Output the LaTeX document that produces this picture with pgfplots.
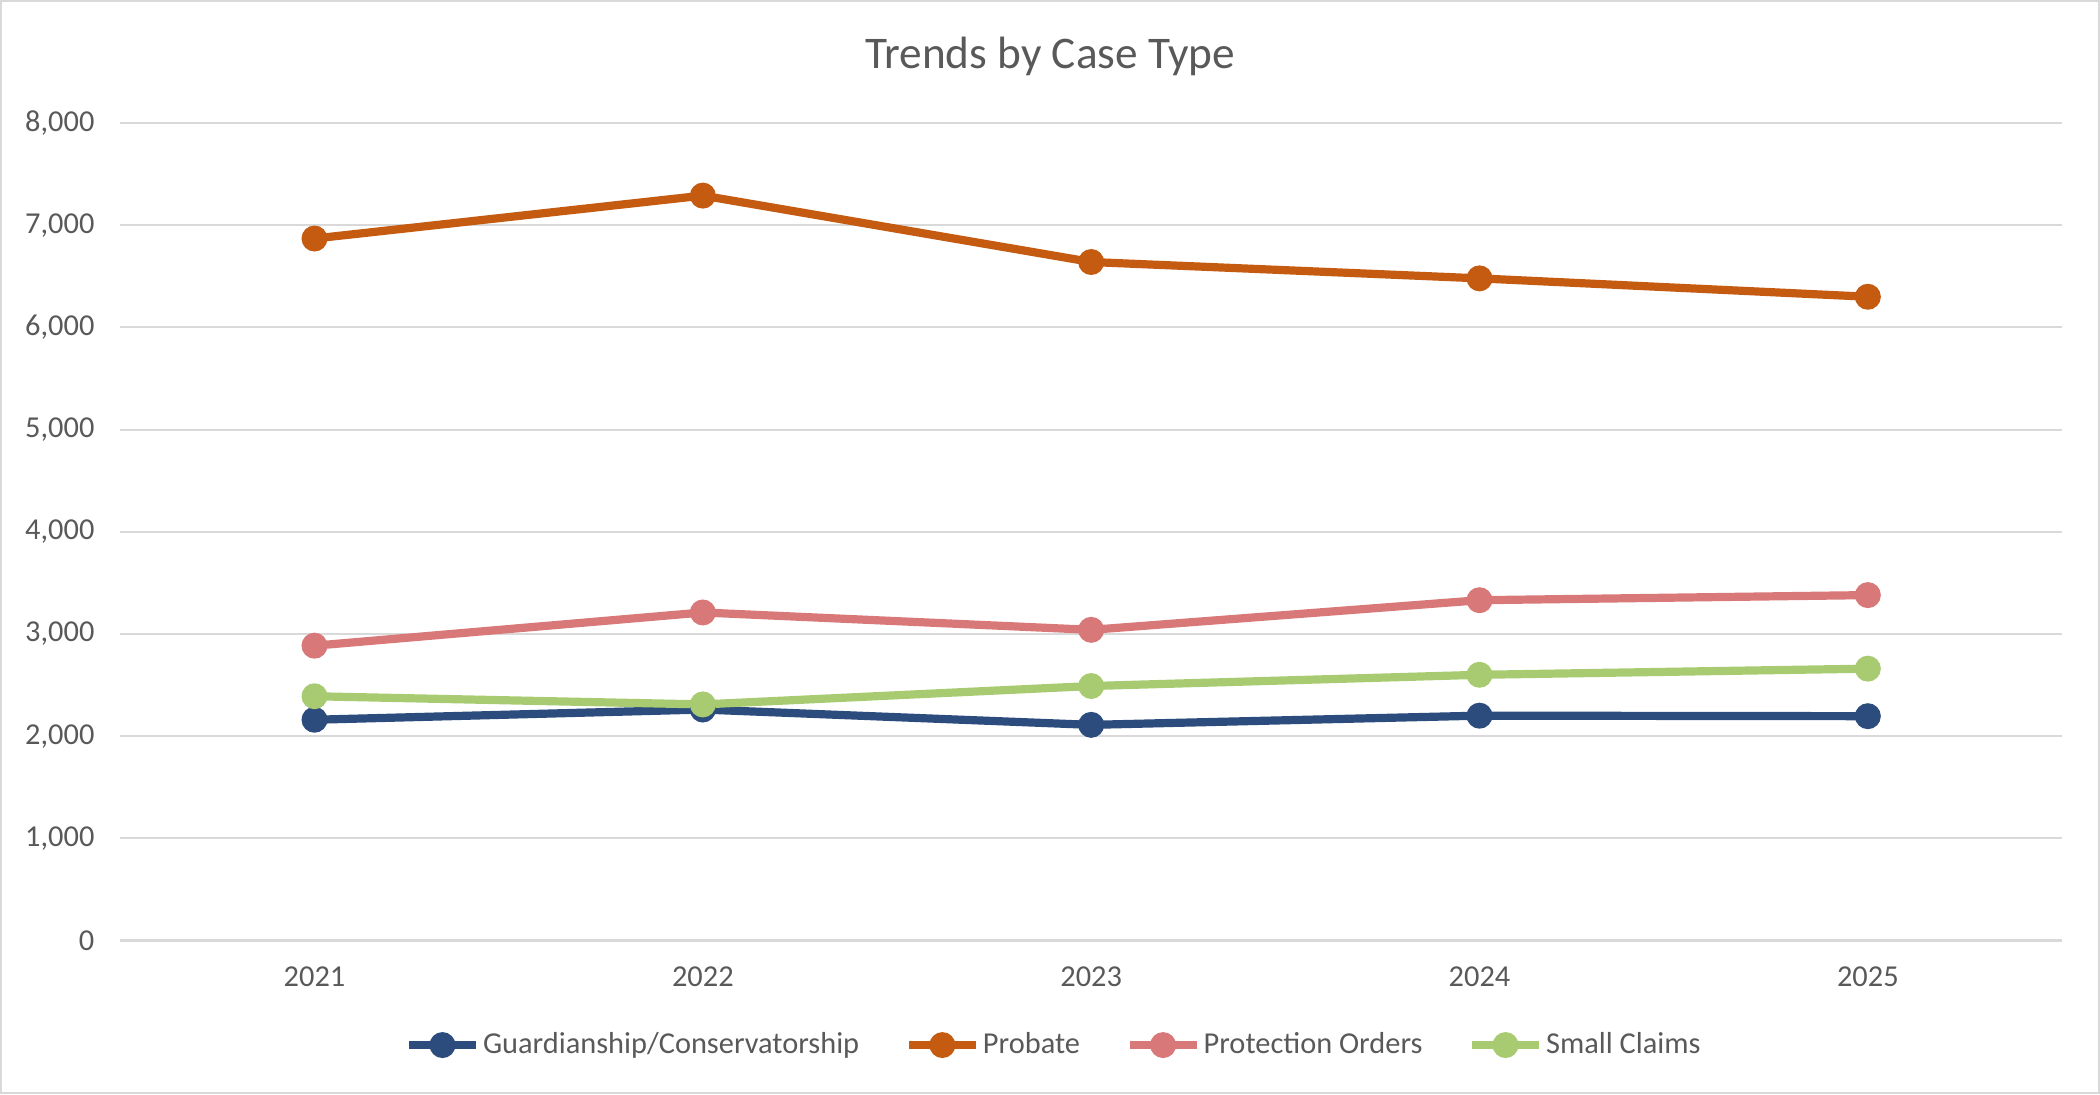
\documentclass[border=0pt]{standalone}
\usepackage{pgfplots}
\pgfplotsset{compat=1.18}
\usepackage{fontspec}
\setmainfont{Carlito}
\definecolor{guard}{HTML}{2B4C7C}
\definecolor{probate}{HTML}{C55A11}
\definecolor{protect}{HTML}{D97878}
\definecolor{claims}{HTML}{A8CB72}
\definecolor{txt}{HTML}{595959}
\definecolor{gridc}{HTML}{D9D9D9}
\begin{document}
\begin{tikzpicture}
\useasboundingbox (-39.6pt,-50.7pt) rectangle (651.5pt,309.5pt);
\draw[line width=0.7pt, gridc] (-39.2pt,-50.3pt) rectangle (651.1pt,309.1pt);
\node[font=\fontsize{14.9}{18}\selectfont, text=txt] at (306pt,291pt) {Trends by Case Type};
\begin{axis}[
  at={(0pt,0pt)}, anchor=south west,
  scale only axis, width=639pt, height=269pt,
  xmin=-0.5, xmax=4.5, ymin=0, ymax=8000,
  xtick={0,...,4}, xticklabels={2021,2022,2023,2024,2025},
  ytick={0,1000,...,8000},
  axis line style={draw=none},
  tick style={draw=none},
  ymajorgrids, grid style={gridc, line width=0.7pt},
  tick label style={font=\fontsize{10}{12}\selectfont, text=txt},
  /pgf/number format/assume math mode=true,
  /pgf/number format/1000 sep={,},
  yticklabel style={xshift=-5pt},
  xticklabel style={yshift=-5pt},
  every axis plot/.append style={line width=2.7pt, mark=*, mark size=2.9pt, mark options={solid}},
  legend columns=4,
  legend style={at={(0.481,-0.128)}, anchor=center, draw=none, fill=none,
    font=\fontsize{10}{12}\selectfont, text=txt,
    nodes={inner xsep=1pt},
    /tikz/every even column/.append style={column sep=14pt},
    /tikz/every odd column/.append style={column sep=0pt}},
  legend image code/.code={\draw[mark repeat=2, mark phase=2] plot coordinates {(0pt,0pt) (11pt,0pt) (22pt,0pt)};},
]
\addplot[guard] coordinates {(0,2160) (1,2260) (2,2110) (3,2200) (4,2195)};
\addlegendentry{Guardianship/Conservatorship}
\addplot[probate] coordinates {(0,6870) (1,7290) (2,6640) (3,6480) (4,6300)};
\addlegendentry{Probate}
\addplot[protect] coordinates {(0,2885) (1,3210) (2,3040) (3,3330) (4,3380)};
\addlegendentry{Protection Orders}
\addplot[claims] coordinates {(0,2390) (1,2310) (2,2490) (3,2600) (4,2660)};
\addlegendentry{Small Claims}
\end{axis}
\end{tikzpicture}
\end{document}
